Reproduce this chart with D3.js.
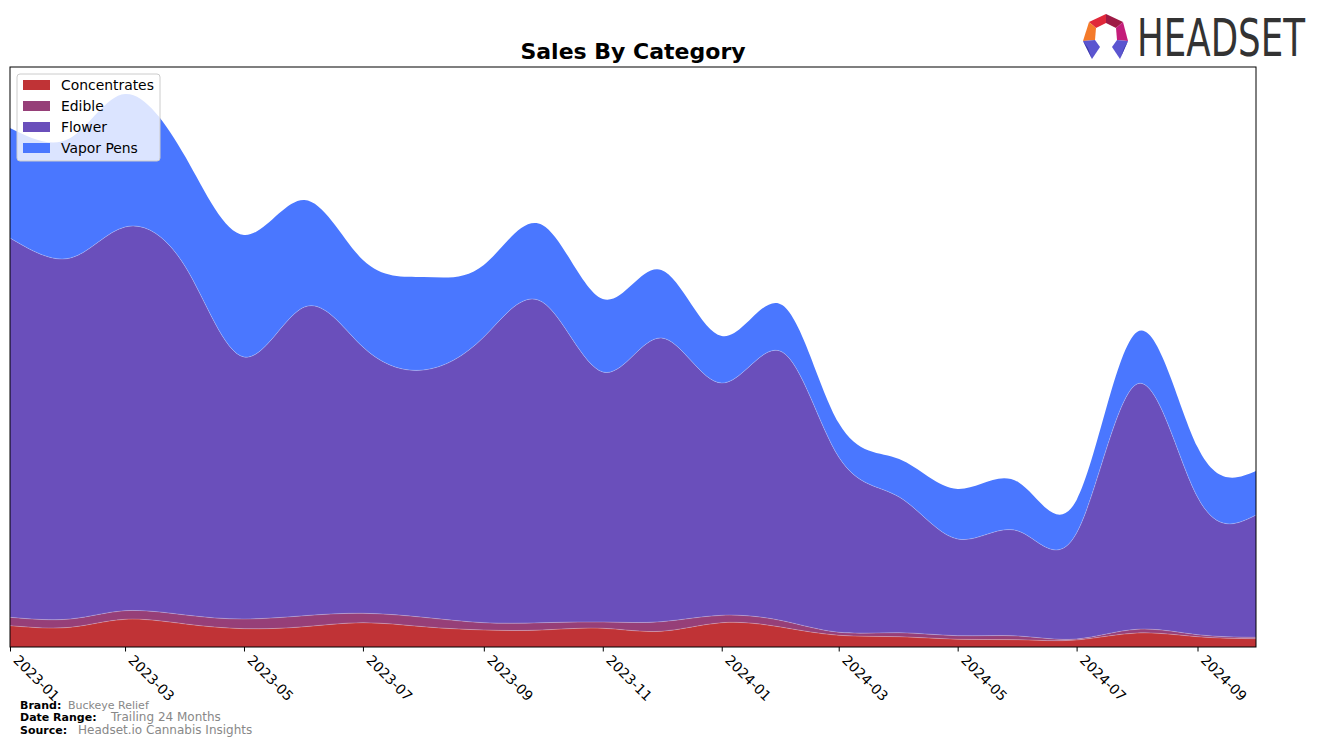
<!DOCTYPE html>
<html>
<head>
<meta charset="utf-8">
<script src="https://cdn.jsdelivr.net/npm/d3@7"></script>
<style>
  html, body { margin: 0; padding: 0; background: #fff; }
  svg { display: block; font-family: "DejaVu Sans", sans-serif; }
</style>
</head>
<body>
<svg id="chart" width="1320" height="746"></svg>
<script>
// ---- data ----
const months = ["2023-01","2023-02","2023-03","2023-04","2023-05","2023-06","2023-07","2023-08",
  "2023-09","2023-10","2023-11","2023-12","2024-01","2024-02","2024-03","2024-04","2024-05",
  "2024-06","2024-07","2024-08","2024-09","2024-10"];
const categories = ["Concentrates","Edible","Flower","Vapor Pens"];
const concentrates = [21.3,19.7,27.7,23,18.3,20.3,24.3,20.3,17,17,18.7,15.7,24.3,19.7,11.7,10.3,7.7,7.3,7,14,10.3,8.3];
const edible = [8.4,8.3,8.6,9,9.7,11,9.4,9.4,7.3,7.3,6.3,9.6,7.4,6.6,3,4,3.6,3.7,1,3.7,2,1.4];
const flower = [379.3,361,383.7,348,262,308.7,266.3,247.3,285.7,320.7,250,283.7,232.3,268.7,175.3,135.7,96.7,105,106,245.3,137.7,122.3];
const vaporPens = [110,120,133,110,122,107,87,93,72,77,73,68,47,47,34,38,50,49,33,52,50,44];
const tickLabels = ["2023-01","2023-03","2023-05","2023-07","2023-09","2023-11","2024-01","2024-03","2024-05","2024-07","2024-09"];
const colors = ["#c03336","#963f78","#6a4fbb","#4a77ff"];
const brand = "Buckeye Relief";
const dateRange = "Trailing 24 Months";
const source = "Headset.io Cannabis Insights";

// ---- layout ----
const svg = d3.select("#chart");
const pL = 10, pR = 1256, pT = 67, pB = 647;
const parse = d3.timeParse("%Y-%m");
const rows = months.map((m, i) => ({
  date: parse(m),
  "Concentrates": concentrates[i],
  "Edible": edible[i],
  "Flower": flower[i],
  "Vapor Pens": vaporPens[i]
}));

const x = d3.scaleTime().domain([parse("2023-01"), parse("2024-10")]).range([pL, pR]);
const y = d3.scaleLinear().domain([0, 580]).range([pB, pT]);

const stack = d3.stack().keys(categories);
const series = stack(rows);

const area = d3.area()
  .x(d => x(d.data.date))
  .y0(d => y(d[0]))
  .y1(d => y(d[1]))
  .curve(d3.curveNatural);
const topLine = d3.line()
  .x(d => x(d.data.date))
  .y(d => y(d[1]))
  .curve(d3.curveNatural);

svg.append("defs").append("clipPath").attr("id", "clip")
  .append("rect").attr("x", pL).attr("y", pT).attr("width", pR - pL).attr("height", pB - pT);

const g = svg.append("g").attr("clip-path", "url(#clip)");
g.selectAll("path.layer").data(series).join("path")
  .attr("class", "layer")
  .attr("d", area)
  .attr("fill", (d, i) => colors[i]);
g.selectAll("path.edge").data(series.slice(0, 3)).join("path")
  .attr("class", "edge")
  .attr("d", topLine)
  .attr("fill", "none")
  .attr("stroke", "rgba(255,255,255,0.3)")
  .attr("stroke-width", 0.8);

// frame
svg.append("rect").attr("x", pL).attr("y", pT).attr("width", pR - pL).attr("height", pB - pT)
  .attr("fill", "none").attr("stroke", "#000").attr("stroke-width", 1);

// x axis
const xAxis = d3.axisBottom(x)
  .tickValues(tickLabels.map(parse))
  .tickFormat(d3.timeFormat("%Y-%m"))
  .tickSize(4.5).tickSizeOuter(0);
const ax = svg.append("g").attr("transform", `translate(0,${pB})`).call(xAxis);
ax.select(".domain").remove();
ax.selectAll(".tick line").attr("stroke", "#000").attr("stroke-width", 1);
ax.selectAll(".tick text")
  .attr("font-family", "DejaVu Sans")
  .attr("font-size", 13.9)
  .attr("fill", "#000")
  .attr("text-anchor", "start")
  .attr("dy", null)
  .attr("y", 0)
  .attr("transform", "translate(2,14) rotate(45)");

// title
svg.append("text").attr("x", 633).attr("y", 59).attr("text-anchor", "middle")
  .attr("font-family", "DejaVu Sans").attr("font-weight", "bold").attr("font-size", 22)
  .text("Sales By Category");

// legend
const lg = svg.append("g");
lg.append("rect").attr("x", 17).attr("y", 74).attr("width", 143).attr("height", 87).attr("rx", 3)
  .attr("fill", "rgba(255,255,255,0.8)").attr("stroke", "#cccccc").attr("stroke-width", 1);
categories.forEach((c, i) => {
  const cy = 85 + i * 21;
  lg.append("rect").attr("x", 23).attr("y", cy - 5).attr("width", 27).attr("height", 10).attr("fill", colors[i]);
  lg.append("text").attr("x", 61).attr("y", cy + 5).attr("font-family", "DejaVu Sans")
    .attr("font-size", 13.9).attr("fill", "#000").text(c);
});

// footer
const foot = [
  ["Brand:", brand, 709, 68, 11],
  ["Date Range:", dateRange, 721, 111, 12],
  ["Source:", source, 734, 78, 12]
];
foot.forEach(([lab, val, yy, vx, fs]) => {
  svg.append("text").attr("x", 20).attr("y", yy).attr("font-family", "DejaVu Sans")
    .attr("font-weight", "bold").attr("font-size", 11).attr("fill", "#000").text(lab);
  svg.append("text").attr("x", vx).attr("y", yy).attr("font-family", "DejaVu Sans")
    .attr("font-size", fs).attr("fill", "#888").text(val);
});

// logo
const logo = svg.append("g");
const polys = [
  [[[1089,22],[1106,14],[1106,23],[1096,28]], "#e0283a"],
  [[[1106,14],[1123,22],[1116,28],[1106,23]], "#9e1a45"],
  [[[1089,22],[1096,28],[1095,40],[1083,41]], "#f47a2a"],
  [[[1123,22],[1128,41],[1117,40],[1116,28]], "#c41d7a"],
  [[[1083,41],[1095,40],[1100,47],[1092,59]], "#5b55d0"],
  [[[1083,41],[1092,59],[1088,48]], "#3c3aa8"],
  [[[1128,41],[1117,40],[1112,47],[1120,59]], "#5b55d0"],
  [[[1128,41],[1120,59],[1124,48]], "#3c3aa8"]
];
polys.forEach(([pts, col]) => {
  logo.append("polygon").attr("points", pts.map(p => p.join(",")).join(" ")).attr("fill", col);
});
logo.append("g").attr("transform", "translate(1137,56) scale(1,1.2)")
  .append("text").attr("x", 0).attr("y", 0)
  .attr("font-family", "Liberation Sans Narrow, DejaVu Sans Condensed, sans-serif")
  .attr("font-size", 43.4).attr("fill", "#333")
  .attr("textLength", 168).attr("lengthAdjust", "spacingAndGlyphs")
  .text("HEADSET");
</script>
</body>
</html>
